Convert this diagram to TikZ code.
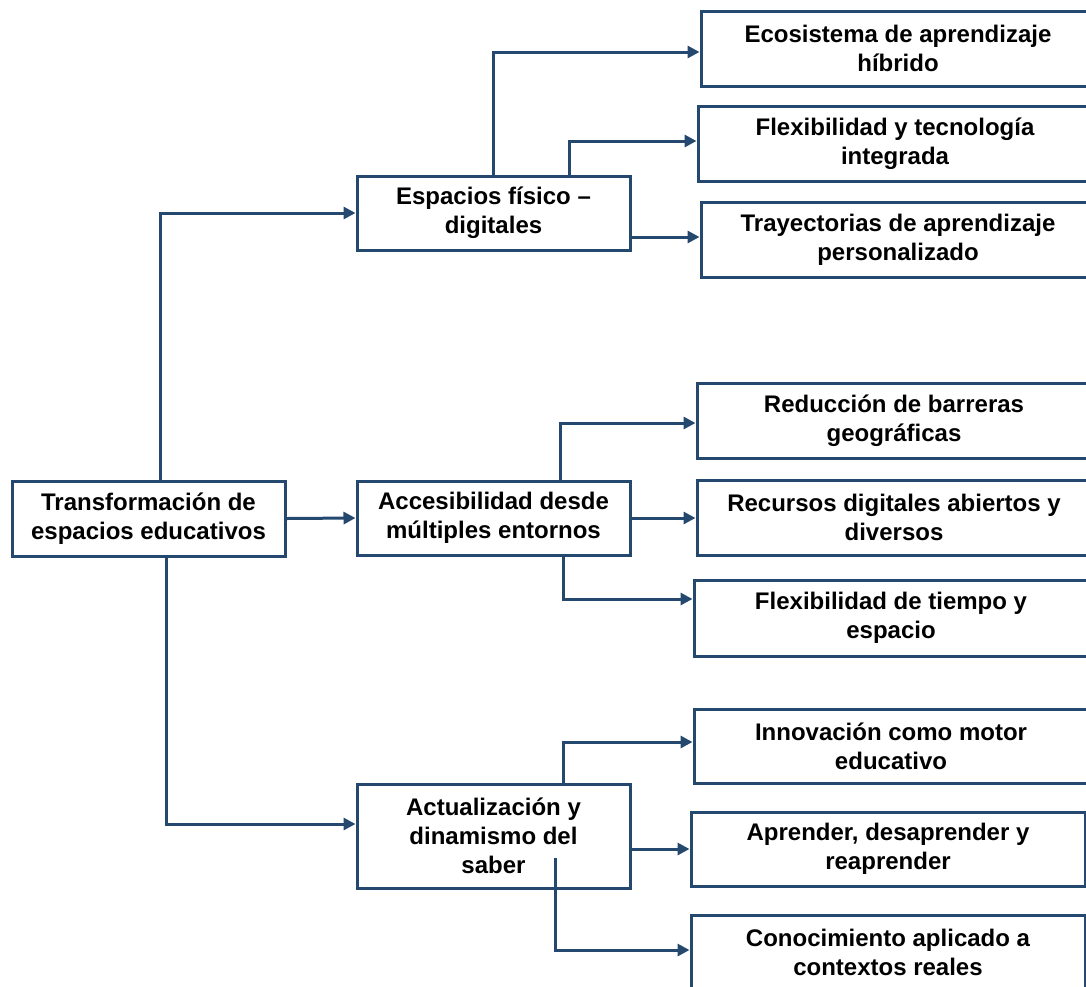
\documentclass[tikz,border=0pt]{standalone}
\usepackage{fontspec}
\setmainfont{Liberation Sans}
\usetikzlibrary{arrows.meta}
\definecolor{lineblue}{HTML}{24486E}
\begin{document}
\begin{tikzpicture}[x=1pt,y=-1pt,
  box/.style={draw=lineblue,line width=3pt,fill=white,align=center,inner sep=0pt,
    font=\fontsize{24}{29}\selectfont\bfseries,text=black},
  mid/.style={box,minimum width=273pt,minimum height=74pt},
  leaf/.style={box,minimum width=394pt,minimum height=75pt},
  conn/.style={draw=lineblue,line width=3pt,-{Triangle[length=12pt,width=12pt]}}]
\useasboundingbox (0,0) rectangle (1086,986);
\clip (0,0) rectangle (1086,986);
\node[mid,minimum height=75pt] (root) at (148.5,518.5) {Transformación de\\espacios educativos};
\node[mid] (esp) at (493.5,213) {Espacios físico –\\digitales};
\node[mid] (acc) at (493.5,518) {Accesibilidad desde\\múltiples entornos};
\node[mid,minimum height=104pt] (act) at (493.5,836) {Actualización y\\dinamismo del\\saber};
\node[leaf] (r1) at (898,48.5) {Ecosistema de aprendizaje\\híbrido};
\node[leaf] (r2) at (895,143.5) {Flexibilidad y tecnología\\integrada};
\node[leaf] (r3) at (898,239.5) {Trayectorias de aprendizaje\\personalizado};
\node[leaf] (r4) at (894,420.5) {Reducción de barreras\\geográficas};
\node[leaf] (r5) at (894,517.5) {Recursos digitales abiertos y\\diversos};
\node[leaf,minimum height=76pt] (r6) at (891,618) {Flexibilidad de tiempo y\\espacio};
\node[leaf,minimum height=74pt] (r7) at (891,746) {Innovación como motor\\educativo};
\node[leaf,minimum height=74pt] (r8) at (888,849) {Aprender, desaprender y\\reaprender};
\node[leaf] (r9) at (888,952.5) {Conocimiento aplicado a\\contextos reales};
% root
\draw[conn] ([xshift=12pt]root.north) |- (esp.west);
\draw[conn] (root.east) -- (acc.west);
\draw[conn] ([xshift=17.5pt]root.south) |- ([yshift=12pt]act.west);
% espacios
\draw[conn] (esp.north) |- ([yshift=-3.5pt]r1.west);
\draw[conn] ([xshift=75.5pt]esp.north) |- ([yshift=2.5pt]r2.west);
\draw[conn] ([yshift=-24pt]esp.east) -- ([yshift=-24pt]esp.east -| r3.west);
% accesibilidad
\draw[conn] ([xshift=66.5pt]acc.north) |- ([yshift=-2.5pt]r4.west);
\draw[conn] (acc.east) -- (acc.east -| r5.west);
\draw[conn] ([xshift=69.5pt]acc.south) |- ([yshift=19pt]r6.west);
% actualizacion
\draw[conn] ([xshift=69.5pt]act.north) |- ([yshift=4pt]r7.west);
\draw[conn] ([yshift=-13pt]act.east) -- ([yshift=-13pt]act.east -| r8.west);
\coordinate (actin) at ([xshift=61.5pt,yshift=-22pt]act.center);
\draw[conn] (actin) |- ([yshift=2.5pt]r9.west);
\end{tikzpicture}
\end{document}
